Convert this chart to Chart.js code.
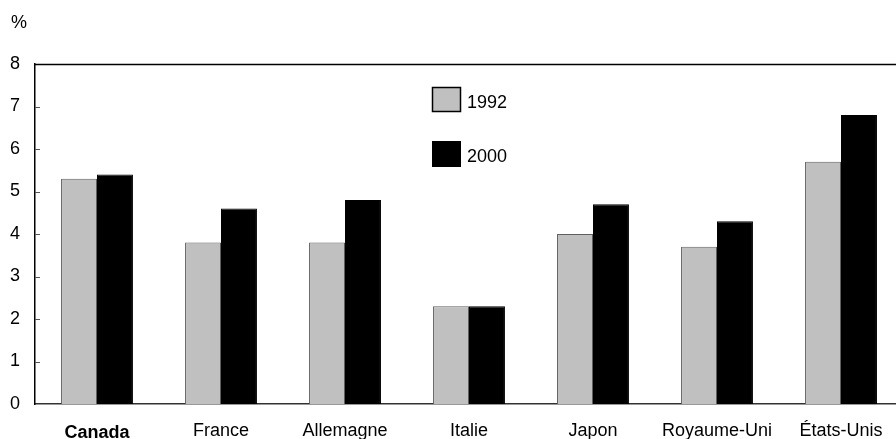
<!DOCTYPE html>
<html><head><meta charset="utf-8">
<script src="https://cdn.jsdelivr.net/npm/chart.js@4"></script>
<style>html,body{margin:0;padding:0;background:#fff;overflow:hidden}#w{width:896px;height:439px;overflow:hidden}</style>
</head><body><div id="w"><canvas id="c" width="904" height="439"></canvas></div>
<script>
const categories = ['Canada','France','Allemagne','Italie','Japon','Royaume-Uni','États-Unis'];
const series1992 = [5.3, 3.8, 3.8, 2.3, 4.0, 3.7, 5.7];
const series2000 = [5.4, 4.6, 4.8, 2.3, 4.7, 4.3, 6.8];
const yTicks = [0,1,2,3,4,5,6,7,8];
const seriesNames = ['1992','2000'];
const FONT = '"Liberation Sans", Arial, sans-serif';

const deco = {
  id:'deco',
  afterDraw(chart){
    const ctx = chart.ctx, a = chart.chartArea, y = chart.scales.y, x = chart.scales.x;
    ctx.save();
    // top border
    ctx.strokeStyle = '#000'; ctx.lineWidth = 1.5;
    ctx.beginPath(); ctx.moveTo(a.left, a.top+0.5); ctx.lineTo(a.right, a.top+0.5); ctx.stroke();
    // inward ticks
    ctx.strokeStyle = '#555'; ctx.lineWidth = 1;
    yTicks.forEach(v => { if (v===0||v===8) return; const py = Math.round(y.getPixelForValue(v))+0.5; ctx.beginPath(); ctx.moveTo(a.left, py); ctx.lineTo(a.left+5, py); ctx.stroke(); });
    // y tick labels
    ctx.fillStyle = '#000'; ctx.font = '18px ' + FONT; ctx.textAlign = 'left'; ctx.textBaseline = 'middle';
    yTicks.forEach(v => ctx.fillText(String(v), 10, y.getPixelForValue(v)));
    // unit
    ctx.textBaseline = 'alphabetic';
    ctx.fillText('%', 11, 28);
    // x labels
    ctx.textAlign = 'center';
    categories.forEach((c,i) => {
      const px = x.getPixelForValue(i);
      if (i===0) { ctx.font = 'bold 18px ' + FONT; ctx.fillText(c, px, 438); }
      else { ctx.font = '18px ' + FONT; ctx.fillText(c, px, 435.5); }
    });
    // legend
    ctx.font = '18px ' + FONT; ctx.textAlign = 'left';
    ctx.fillStyle = '#c0c0c0'; ctx.fillRect(432, 87, 29, 25);
    ctx.strokeStyle = '#000'; ctx.lineWidth = 1.5; ctx.strokeRect(432.5, 87.5, 28, 24);
    ctx.fillStyle = '#000'; ctx.fillText(seriesNames[0], 467, 108);
    ctx.fillRect(432, 141, 29, 26);
    ctx.fillText(seriesNames[1], 467, 162);
    ctx.restore();
  }
};

new Chart(document.getElementById('c'), {
  type:'bar',
  data:{ labels: categories, datasets:[
    {label:seriesNames[0], data:series1992, backgroundColor:'#c0c0c0', borderColor:'#606060', borderWidth:1, categoryPercentage:0.58, barPercentage:1},
    {label:seriesNames[1], data:series2000, backgroundColor:'#000', borderColor:'#000', borderWidth:1, categoryPercentage:0.58, barPercentage:1}
  ]},
  options:{
    responsive:false, animation:false, devicePixelRatio:1,
    layout:{padding:{top:64,right:1,left:0,bottom:0}},
    plugins:{legend:{display:false}, tooltip:{enabled:false}},
    scales:{
      x:{ grid:{display:false, drawTicks:false}, border:{display:true, color:'#333', width:1.5},
          ticks:{display:false}, afterFit(s){ s.height = 35; } },
      y:{ min:0, max:8, grid:{display:false, drawTicks:false}, border:{display:true, color:'#000', width:1.5},
          ticks:{display:false, stepSize:1}, afterFit(s){ s.width = 35; } }
    }
  },
  plugins:[deco]
});
</script></body></html>
